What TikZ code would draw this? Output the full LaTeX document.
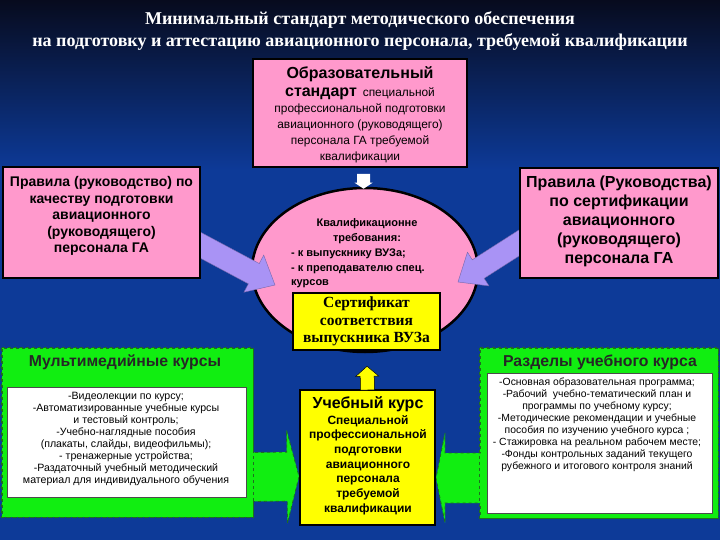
\documentclass[tikz,border=0pt]{standalone}
\usepackage{fontspec}
\setmainfont{Liberation Sans}
\newfontfamily\titlefont{Liberation Serif}
\usetikzlibrary{shapes.geometric,calc}
\definecolor{bgblue}{HTML}{0D3A98}
\definecolor{bgtop}{HTML}{070B1E}
\definecolor{pinkbox}{HTML}{FF99CC}
\definecolor{lilac}{HTML}{A993F5}
\definecolor{grn}{HTML}{11EE11}
\definecolor{dkgrn}{HTML}{1E6E1E}
\definecolor{yel}{HTML}{FFFF00}
\newcommand\mybarrow[6]{%
  \coordinate (ba-h) at ($(#3)!#6!(#2)$);
  \filldraw[#1] ($(#2)!#4!90:(#3)$) -- ($(ba-h)!#4!90:(#3)$) -- ($(ba-h)!#5!90:(#3)$) -- (#3)
    -- ($(ba-h)!#5!-90:(#3)$) -- ($(ba-h)!#4!-90:(#3)$) -- ($(#2)!#4!-90:(#3)$) -- cycle;}
\begin{document}
\begin{tikzpicture}[x=1pt,y=-1pt,
  pinkrect/.style={draw=black, line width=2pt, fill=pinkbox, inner sep=0pt},
  greenrect/.style={draw=dkgrn, dashed, line width=0.8pt, fill=grn, inner sep=0pt},
  whiterect/.style={draw=black!70, line width=0.6pt, fill=white, inner sep=0pt},
  yelrect/.style={draw=black, line width=2pt, fill=yel, inner sep=0pt},
  txt/.style={align=center, inner sep=0pt, text=black},
  lilacarrow/.style={fill=lilac, draw=lilac!70!black, line width=0.4pt},
  greenarrow/.style={fill=grn, draw=dkgrn, dashed, line width=0.8pt},
  whitearrow/.style={fill=white, draw=none},
  yelarrow/.style={fill=yel, draw=black, line width=0.5pt}]
\useasboundingbox (0,0) rectangle (720,540);
\fill[bgblue] (0,0) rectangle (720,540);
\shade[top color=bgtop, bottom color=bgblue] (0,0) rectangle (720,170);

% title
\node[align=center, inner sep=0pt, text=white, font=\titlefont\bfseries\fontsize{18}{22}\selectfont] (title) at (360,31)
  {Минимальный стандарт методического обеспечения\\на подготовку и аттестацию авиационного персонала, требуемой квалификации};

% top standard box
\node[pinkrect, minimum width=214pt, minimum height=108pt] (std) at (360,113) {};
\node[txt, font=\fontsize{11.9}{16}\selectfont] (stdtext) at (360,115)
  {{\bfseries\fontsize{16}{17}\selectfont Образовательный}\\[2pt]
   {\bfseries\fontsize{16}{17}\selectfont стандарт}\enspace специальной\\
   профессиональной подготовки\\ авиационного (руководящего)\\ персонала ГА требуемой\\ квалификации};

% green side boxes and arrows
\node[greenrect, minimum width=251pt, minimum height=169pt] (mm) at (127.5,432.5) {};
\node[greenrect, minimum width=238pt, minimum height=170pt] (rz) at (599,433) {};
\node[yelrect, minimum width=135pt, minimum height=135pt] (uk) at (367.5,457.5) {};
\coordinate (ga0) at ($(mm.east)+(-4,44.5)$);
\coordinate (ga1) at ($(uk.west)+(0,19)$);
\coordinate (gb0) at ($(rz.west)+(4,45)$);
\coordinate (gb1) at ($(uk.east)+(0,20.5)$);
\mybarrow{greenarrow}{ga0}{ga1}{24.5pt}{46.5pt}{12pt}
\mybarrow{greenarrow}{gb0}{gb1}{25pt}{45pt}{9pt}
\node[greenrect, draw=none, minimum width=250pt, minimum height=168pt] at (127.5,432.5) {};
\node[greenrect, draw=none, minimum width=237pt, minimum height=169pt] at (599,433) {};
\draw[dkgrn, dashed, line width=0.8pt] (mm.north west) rectangle (mm.south east);
\draw[dkgrn, dashed, line width=0.8pt] (rz.north west) rectangle (rz.south east);
\node[yelrect, minimum width=135pt, minimum height=135pt] (uk2) at (uk.center) {};

\node[txt, font=\bfseries\fontsize{15.8}{17}\selectfont, text=black!85] (mmt) at (125,362) {Мультимедийные курсы};
\node[whiterect, minimum width=239pt, minimum height=110pt] (mmw) at (126.5,442) {};
\node[txt, font=\fontsize{10.6}{11.9}\selectfont] (mmtext) at (126,439)
  {-Видеолекции по курсу;\\ -Автоматизированные учебные курсы\\ и тестовый контроль;\\ -Учебно-наглядные пособия\\
   (плакаты, слайды, видеофильмы);\\ - тренажерные устройства;\\ -Раздаточный учебный методический\\ материал для индивидуального обучения};

\node[txt, font=\bfseries\fontsize{15.8}{17}\selectfont, text=black!85] (rzt) at (600,362) {Разделы учебного курса};
\node[whiterect, minimum width=225pt, minimum height=140pt] (rzw) at (599.5,443) {};
\node[txt, font=\fontsize{10.4}{12}\selectfont] (rztext) at (597,425)
  {-Основная образовательная программа;\\ -Рабочий \ учебно-тематический план и\\ программы по учебному курсу;\\
   -Методические рекомендации и учебные\\ пособия по изучению учебного курса ;\\ - Стажировка на реальном рабочем месте;\\
   -Фонды контрольных заданий текущего\\ рубежного и итогового контроля знаний};

\node[txt, font=\bfseries\fontsize{16}{17}\selectfont] (ukt) at (368,404) {Учебный курс};
\node[txt, font=\bfseries\fontsize{12}{14.7}\selectfont] (uktext) at (368,465)
  {Специальной\\ профессиональной\\ подготовки\\ авиационного\\ персонала\\ требуемой\\ квалификации};

% ellipse
\node[ellipse, draw=black, line width=2.5pt, fill=pinkbox, minimum width=226pt, minimum height=164pt, inner sep=0pt] (ell) at (365,270) {};

% white arrow, yellow arrow
\coordinate (wa0) at ($(std.south)+(3.5,6)$);
\coordinate (wa1) at ($(ell.north)+(-1.5,2)$);
\mybarrow{whitearrow}{wa0}{wa1}{6.5pt}{9pt}{6pt}
\coordinate (ya0) at ($(uk.north)+(0,1)$);
\coordinate (ya1) at ($(ell.south)+(2,13)$);
\mybarrow{yelarrow}{ya0}{ya1}{7pt}{11.5pt}{10pt}

% lilac arrows
\node[pinkrect, minimum width=197pt, minimum height=111pt] (rl) at (101.5,222.5) {};
\node[pinkrect, minimum width=198pt, minimum height=110pt] (rr) at (619,223) {};
\coordinate (la0) at ($(rl.east)+(-14,15.5)$);
\coordinate (la1) at ($(ell.center)+(-90,15)$);
\coordinate (lb0) at ($(rr.west)+(25,4)$);
\coordinate (lb1) at ($(ell.center)+(93,12)$);
\mybarrow{lilacarrow}{la0}{la1}{11.5pt}{21pt}{24pt}
\mybarrow{lilacarrow}{lb0}{lb1}{11pt}{20pt}{24pt}
\node[pinkrect, minimum width=197pt, minimum height=111pt] (rl2) at (rl.center) {};
\node[pinkrect, minimum width=198pt, minimum height=110pt] (rr2) at (rr.center) {};

\node[txt, font=\bfseries\fontsize{14}{16.6}\selectfont] (rltext) at (101.5,216)
  {Правила (руководство) по\\ качеству подготовки\\ авиационного\\ (руководящего)\\ персонала ГА};
\node[txt, font=\bfseries\fontsize{16}{19}\selectfont] (rrtext) at (619,221)
  {Правила (Руководства)\\ по сертификации\\ авиационного\\ (руководящего)\\ персонала ГА};

% ellipse text
\node[txt, font=\bfseries\fontsize{11}{15}\selectfont] (reqa) at (367,231.5) {Квалификационне\\ требования:};
\node[txt, align=left, anchor=west, font=\bfseries\fontsize{11}{14.5}\selectfont] (reqb) at (291,268.5)
  {- к выпускнику ВУЗа;\\ - к преподавателю спец.\\ курсов};

% certificate
\node[draw=black, line width=1.2pt, fill=yel, minimum width=147pt, minimum height=57pt, align=center, inner sep=0pt,
  font=\titlefont\bfseries\fontsize{15.5}{17.5}\selectfont] (cert) at (366.5,321.5)
  {Сертификат\\соответствия\\выпускника ВУЗа};
\end{tikzpicture}
\end{document}
